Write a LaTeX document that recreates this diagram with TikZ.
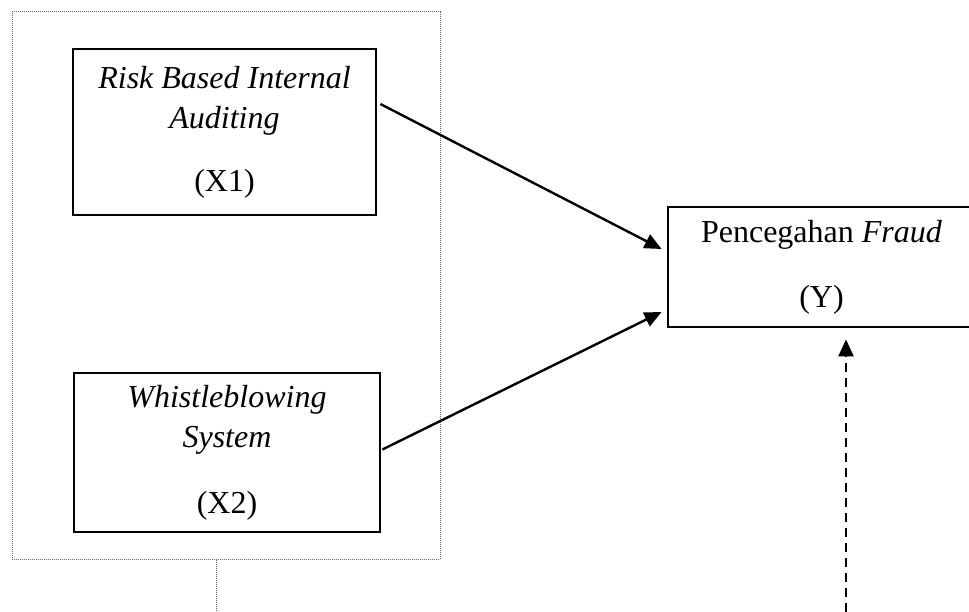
\documentclass[tikz,border=0pt]{standalone}
\usepackage{fontspec}
\setmainfont{Liberation Serif}
\usetikzlibrary{arrows.meta,calc}
\begin{document}
\begin{tikzpicture}[x=1pt,y=-1pt,
  varbox/.style={draw,line width=2.8pt,align=center,inner sep=0pt,
    font=\fontsize{32}{40}\selectfont},
  framebox/.style={draw=gray!80!black,line width=1pt,dash pattern=on 1pt off 1pt,inner sep=0pt},
  arr/.style={line width=2.4pt,-{Triangle[length=17pt,width=15pt]}},
  darr/.style={line width=2.4pt,dash pattern=on 9pt off 6pt,-{Triangle[length=17pt,width=15pt]}},
  dline/.style={draw=gray!80!black,line width=1pt,dash pattern=on 1pt off 1pt}]
\useasboundingbox (0,0) rectangle (969,612);
\node[framebox,minimum width=428pt,minimum height=547pt] (frame) at (226,285.5) {};
\node[varbox,minimum width=303pt,minimum height=166pt] (x1) at (224.5,132)
  {\textit{Risk Based Internal}\\\textit{Auditing}\\[23pt](X1)};
\node[varbox,minimum width=306pt,minimum height=159pt] (x2) at (227,452.5)
  {\textit{Whistleblowing}\\\textit{System}\\[26pt](X2)};
\node[varbox,minimum width=307pt,minimum height=120pt] (y) at (821.5,267)
  {Pencegahan \textit{Fraud}\\[25pt](Y)};
\coordinate (c0) at (216,612);
\coordinate (d0) at (846,612);
\draw[arr] ($(x1.east)+(3,-28)$) -- ($(y.west)+(-5,-18)$);
\draw[arr] ($(x2.east)+(1,-3)$) -- ($(y.west)+(-5,45)$);
\draw[darr] (d0) -- ($(d0 |- y.south)+(0,11)$);
\draw[dline] (frame.south -| c0) -- (c0);
\end{tikzpicture}
\end{document}
